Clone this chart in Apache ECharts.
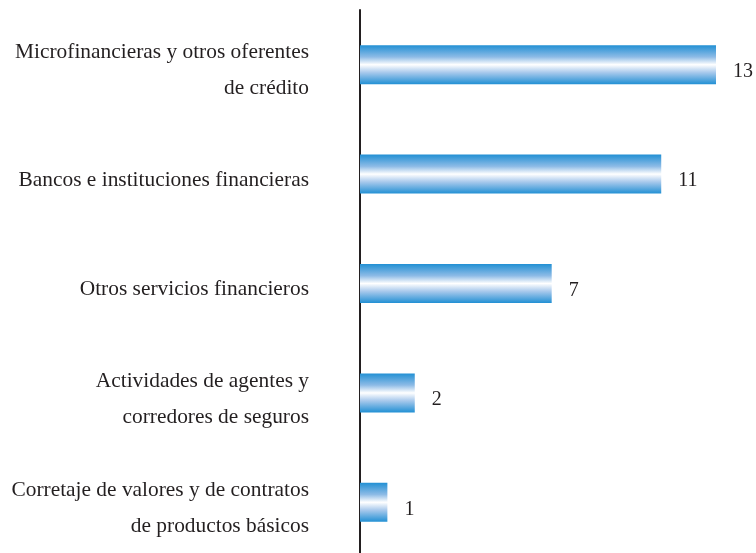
<!DOCTYPE html>
<html>
<head>
<meta charset="utf-8">
<script src="https://cdn.jsdelivr.net/npm/echarts@6/dist/echarts.min.js"></script>
<style>
  html, body { margin: 0; padding: 0; background: #fff; }
  #chart { width: 756px; height: 553px; }
</style>
</head>
<body>
<div id="chart"></div>
<script>
// categorías de arriba hacia abajo
const categories = [
  'Microfinancieras y otros oferentes\nde crédito',
  'Bancos e instituciones financieras',
  'Otros servicios financieros',
  'Actividades de agentes y\ncorredores de seguros',
  'Corretaje de valores y de contratos\nde productos básicos'
];
const values = [13, 11, 7, 2, 1];

const chart = echarts.init(document.getElementById('chart'));

const option = {
  animation: false,
  textStyle: { fontFamily: 'Liberation Serif' },
  grid: { left: 360, right: 40, top: 10, height: 547, outerBoundsMode: 'none' },
  xAxis: {
    type: 'value',
    min: 0,
    max: 13,
    show: false
  },
  yAxis: {
    type: 'category',
    data: categories,
    inverse: true,
    axisLine: { show: true, lineStyle: { color: '#231f20', width: 2 } },
    axisTick: { show: false },
    axisLabel: {
      margin: 51,
      fontSize: 21.4,
      lineHeight: 36,
      color: '#231f20',
      align: 'right',
      fontFamily: 'Liberation Serif',
      // cada línea como fragmento rich para bajar un poco el texto
      formatter: v => v.split('\n').map(s => '{t|' + s + '}').join('\n'),
      rich: {
        t: {
          fontSize: 21.4,
          lineHeight: 36,
          color: '#231f20',
          fontFamily: 'Liberation Serif',
          padding: [12, 0, 0, 0]
        }
      }
    }
  },
  series: [{
    type: 'bar',
    data: values,
    barWidth: 39,
    itemStyle: {
      color: {
        type: 'linear',
        x: 0, y: 0, x2: 0, y2: 1,
        colorStops: [
          { offset: 0, color: '#2290d4' },
          { offset: 0.3, color: '#8dbbe6' },
          { offset: 0.5, color: '#ffffff' },
          { offset: 0.7, color: '#a8c9ec' },
          { offset: 1, color: '#2290d4' }
        ]
      }
    },
    label: {
      show: true,
      position: 'right',
      distance: 17,
      offset: [0, 7],
      fontSize: 20,
      color: '#231f20',
      fontFamily: 'Liberation Serif'
    }
  }]
};

chart.setOption(option);
</script>
</body>
</html>
